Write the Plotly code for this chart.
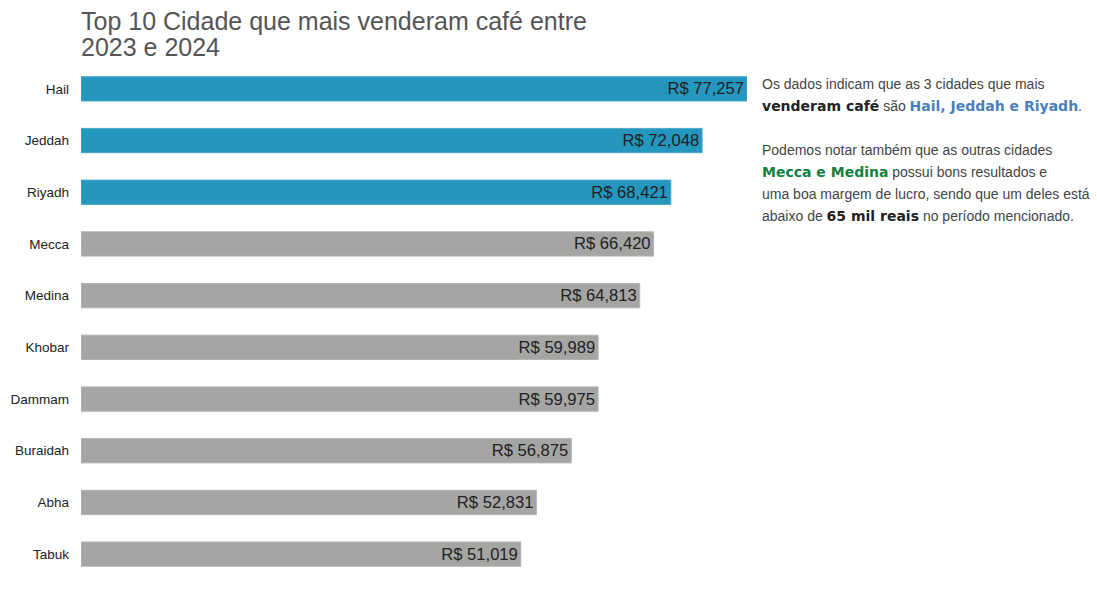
import plotly.graph_objects as go

cities = ["Hail", "Jeddah", "Riyadh", "Mecca", "Medina", "Khobar", "Dammam", "Buraidah", "Abha", "Tabuk"]
sales = [77257, 72048, 68421, 66420, 64813, 59989, 59975, 56875, 52831, 51019]
highlight = ["Hail", "Jeddah", "Riyadh"]
title_lines = ["Top 10 Cidade que mais venderam café entre", "2023 e 2024"]

BLUE = "#2596be"
GRAY = "#a5a5a4"
colors = [BLUE if c in highlight else GRAY for c in cities]
edges = ["#4aa8cc" if c in highlight else "#b3b3b2" for c in cities]
labels = [f"R$ {v:,}" for v in sales]

FONT = "Liberation Sans, Arial, sans-serif"
BOLD = "font-family:DejaVu Sans;font-weight:bold"

fig = go.Figure()
fig.add_trace(go.Bar(
    y=cities, x=sales, orientation="h",
    marker=dict(color=colors, line=dict(color=edges, width=1)),
    width=0.47,
    text=labels, textposition="inside", insidetextanchor="end",
    textangle=0, constraintext="none",
    textfont=dict(family=FONT, size=16.6, color="#222222"),
    hoverinfo="skip",
))

W, H = 1097, 590
top, bottom = 63, 10
left, right_px = 81, 747
plot_h = H - top - bottom

def py(p):
    return (H - bottom - p) / plot_h

def px(p):
    return (p - left) / (right_px - left)

lines = [
    (84, "Os dados indicam que as 3 cidades que mais"),
    (106, f"<span style='{BOLD};color:#222222'>venderam café</span> são "
          f"<span style='{BOLD};color:#4a7fc0'>Hail, Jeddah e Riyadh</span>."),
    (150, "Podemos notar também que as outras cidades"),
    (172, f"<span style='{BOLD};color:#148040'>Mecca e Medina</span> possui bons resultados e"),
    (194, "uma boa margem de lucro, sendo que um deles está"),
    (216, f"abaixo de <span style='{BOLD};color:#222222'>65 mil reais</span> no período mencionado."),
]
for ypix, t in lines:
    fig.add_annotation(
        text=t, xref="paper", yref="paper", x=px(760), y=py(ypix),
        xanchor="left", yanchor="middle", showarrow=False, align="left",
        font=dict(family=FONT, size=14, color="#444444"),
    )

for ypix, t in zip([21, 47], title_lines):
    fig.add_annotation(
        text=t, xref="paper", yref="paper", x=px(79), y=py(ypix),
        xanchor="left", yanchor="middle", showarrow=False, align="left",
        font=dict(family=FONT, size=25, color="#555555"),
    )

fig.update_layout(
    width=W, height=H,
    margin=dict(l=left, r=W - right_px, t=top, b=bottom),
    paper_bgcolor="white", plot_bgcolor="white",
    showlegend=False,
    xaxis=dict(range=[0, max(sales)], visible=False, fixedrange=True, automargin=False),
    yaxis=dict(
        autorange=False, range=[9.5, -0.5], automargin=False,
        categoryorder="array", categoryarray=cities,
        showgrid=False, showline=False, zeroline=False, ticks="",
        ticklabelstandoff=11,
        tickfont=dict(family=FONT, size=13.5, color="#222222"),
    ),
)

fig.write_html("out.html")
